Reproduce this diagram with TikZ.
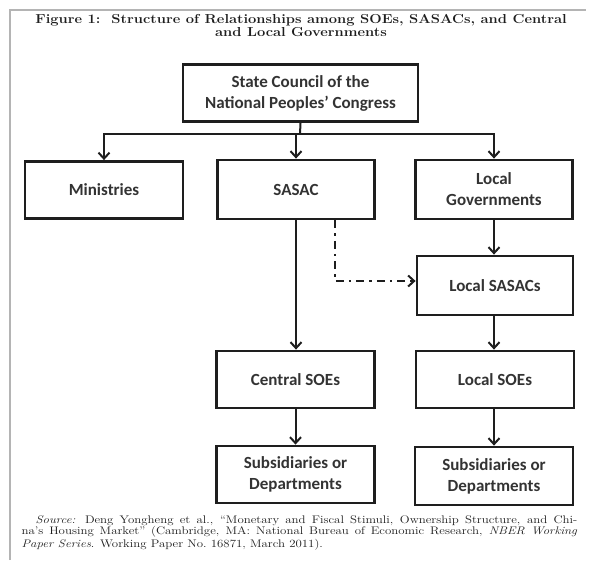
\documentclass[tikz,border=0pt]{standalone}
\usepackage{fontspec}
\usetikzlibrary{arrows.meta}
\newfontfamily\boxfont{Carlito}
\definecolor{ink}{HTML}{1E1E1E}
\definecolor{txt}{HTML}{333333}
\definecolor{framegray}{HTML}{B4B4B4}
\tikzset{
  orgbox/.style={draw=ink, line width=2.8pt, fill=white, inner sep=0pt, align=center,
    text=txt, font=\boxfont\bfseries\fontsize{17}{21}\selectfont},
  conn/.style={draw=ink, line width=2pt},
  arr/.style={conn, -{Straight Barb[length=6pt,width=11pt,line width=2pt]}},
  dashdotarr/.style={conn, dash pattern=on 8pt off 5pt on 2.5pt off 5pt,
    -{Straight Barb[length=6pt,width=11pt,line width=2pt]}}
}
\begin{document}
\begin{tikzpicture}[x=1pt,y=-1pt]
\useasboundingbox (0,0) rectangle (589,560);
\fill[white] (0,0) rectangle (589,560);
% frame
\draw[framegray, line width=2.5pt] (10,560) -- (10,10) -- (586,10);
% title
\node[inner sep=0pt, text=ink] (title) at (301,26)
  {\scalebox{1.13}[1]{\parbox{480pt}{\centering\bfseries\fontsize{13}{13}\selectfont
  Figure 1:\ \ Structure of Relationships among SOEs, SASACs, and Central\\and Local Governments}}};
% boxes
\node[orgbox, minimum width=235pt, minimum height=57pt] (top) at (300.5,93)
  {State Council of the\\National Peoples’ Congress};
\node[orgbox, minimum width=158pt, minimum height=57pt] (min) at (104,190) {Ministries};
\node[orgbox, minimum width=157pt, minimum height=59pt] (sasac) at (296,189.5) {SASAC};
\node[orgbox, minimum width=157pt, minimum height=59pt] (lg) at (494,189.5) {Local\\Governments};
\node[orgbox, minimum width=156pt, minimum height=59pt] (ls) at (495,285.5) {Local SASACs};
\node[orgbox, minimum width=158pt, minimum height=57pt] (cs) at (295.5,379.5) {Central SOEs};
\node[orgbox, minimum width=158pt, minimum height=57pt] (lsoe) at (495,379.5) {Local SOEs};
\node[orgbox, minimum width=158pt, minimum height=57pt] (subl) at (295.5,474.5) {Subsidiaries or\\Departments};
\node[orgbox, minimum width=158pt, minimum height=58pt] (subr) at (494,476) {Subsidiaries or\\Departments};
% connectors
\coordinate (hub) at (300,134);
\draw[conn] (top.south) -- (hub);
\draw[arr] (hub) -| (min.north);
\draw[arr] (hub) -| (lg.north);
\draw[arr] (hub -| sasac.north) -- (sasac.north);
\draw[arr] (sasac.south) -- (sasac.south |- cs.north);
\draw[arr] (lg.south) -- (lg.south |- ls.north);
\draw[arr] (ls.south -| lg.south) -- (lg.south |- lsoe.north);
\draw[arr] (cs.south) -- (cs.south |- subl.north);
\draw[arr] (lsoe.south -| lg.south) -- (lg.south |- subr.north);
\coordinate (dd) at (335,281);
\draw[dashdotarr] (sasac.south -| dd) -- (dd) -- (ls.west |- dd);
% source
\node[inner sep=0pt, text=ink] (src) at (299.5,533)
  {\scalebox{1.17}[1]{\parbox{475pt}{\fontsize{11}{11}\selectfont
  \hspace*{12pt}\textit{Source:} Deng Yongheng et al., “Monetary and Fiscal Stimuli, Ownership Structure, and Chi-\linebreak na’s Housing Market” (Cambridge, MA: National Bureau of Economic Research, \textit{NBER Working}\linebreak \textit{Paper Series}. Working Paper No.~16871, March 2011).}}};
\end{tikzpicture}
\end{document}
